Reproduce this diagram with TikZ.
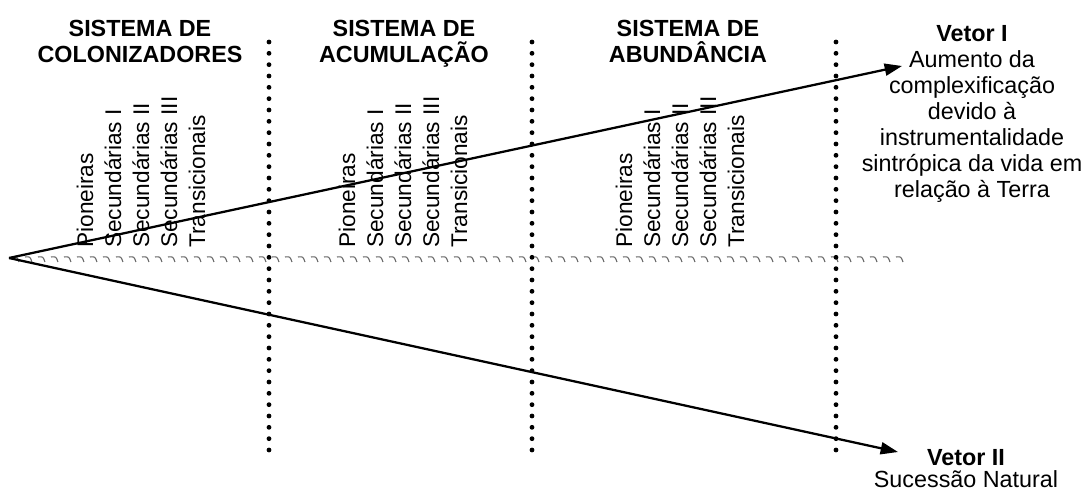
\documentclass[tikz,border=0pt]{standalone}
\usepackage{fontspec}
\setmainfont{Liberation Sans}
\usetikzlibrary{arrows.meta}

\tikzset{
  titulo/.style={font=\bfseries\fontsize{17.5}{19.5}\selectfont, align=center, anchor=north, inner sep=0pt},
  texto/.style={font=\fontsize{17.5}{19.5}\selectfont, align=center, anchor=north, inner sep=0pt},
  estrato/.style={font=\fontsize{17}{20}\selectfont, rotate=90, anchor=base west, inner sep=0pt},
  vetor/.style={line width=1.7pt, -{Triangle[length=13pt,width=9pt]}},
  divisa/.style={line width=3.6pt, line cap=round, dash pattern=on 0pt off 8.5pt},
  onda/.style={black!60, line width=0.8pt},
}

\begin{document}
\begin{tikzpicture}[x=0.75pt,y=-0.75pt]
    \useasboundingbox (0,0) rectangle (1088,491);

    % linha de base
    \foreach \x in {12,25,...,900}
        \draw[onda] (\x,257) .. controls (\x+5,256.5) .. (\x+7,262);

    % divisas entre os sistemas
    \draw[divisa] (269,42) -- (269,455);
    \draw[divisa] (532,42) -- (532,455);
    \draw[divisa] (836,42) -- (836,455);

    % vetores
    \coordinate (origem) at (9,258);
    \coordinate (pontaI) at (902,66);
    \coordinate (pontaII) at (898,452);
    \draw[vetor] (origem) -- (pontaI);
    \draw[vetor] (origem) -- (pontaII);

    % sistemas
    \node[titulo] (colonizadores) at (140,20) {SISTEMA DE\\COLONIZADORES};
    \node[titulo] (acumulacao) at (404,20) {SISTEMA DE\\ACUMULAÇÃO};
    \node[titulo] (abundancia) at (688,20) {SISTEMA DE\\ABUNDÂNCIA};

    % estratos
    \foreach \g/\x in {col/93, acu/355, abu/632} {
        \node[estrato] (pioneiras-\g) at (\x,248) {Pioneiras};
        \node[estrato] (secI-\g) at (\x+28,248) {Secundárias I};
        \node[estrato] (secII-\g) at (\x+56,248) {Secundárias II};
        \node[estrato] (secIII-\g) at (\x+84,248) {Secundárias III};
        \node[estrato] (trans-\g) at (\x+112,248) {Transicionais};
    }

    % legendas dos vetores
    \node[texto] (vetorI) at (972,25) {\textbf{Vetor I}\\Aumento da\\complexificação\\devido à\\instrumentalidade\\sintrópica da vida em\\relação à Terra};
    \node[texto, font=\fontsize{17.5}{17}\selectfont] (vetorII) at (966,449) {\textbf{Vetor II}\\Sucessão Natural};

\end{tikzpicture}
\end{document}
